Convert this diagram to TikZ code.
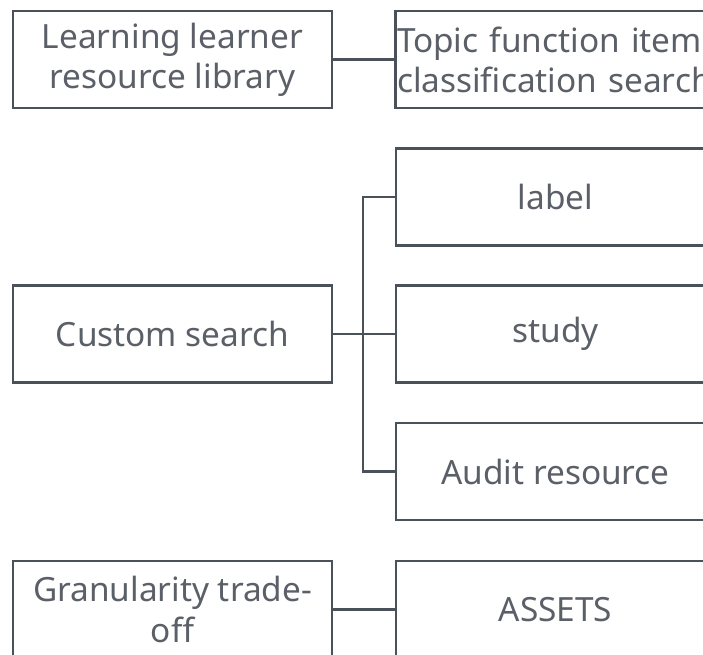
\documentclass[tikz,border=0pt]{standalone}
\usepackage{fontspec}
\setmainfont{Noto Sans}
\usepackage{tikz}
\usetikzlibrary{positioning}
\definecolor{edgegray}{HTML}{4B5159}
\definecolor{textgray}{HTML}{5B6068}
\tikzset{
    item/.style={rectangle,draw=edgegray,line width=1.4pt,minimum width=6.38cm,minimum height=1.94cm,
        inner sep=1pt,text=textgray,align=center,
        font=\fontsize{19pt}{22.8pt}\selectfont},
    leftitem/.style={item,align=left,text width=6.34cm},
    link/.style={draw=edgegray,line width=1.4pt},
}
\begin{document}
\begin{tikzpicture}[x=0.02cm,y=-0.02cm]
    \useasboundingbox (0,0) rectangle (703,655);
    \clip (0,0) rectangle (703,655);
    \fill[white] (0,0) rectangle (703,655);

    \node[item] (lib) at (172.5,59.5) {Learning learner\\resource library};
    \node[leftitem] (topic) at (555.5,59.5) {Topic function item\\classification search};

    \node[item] (cs) at (172.5,334) {Custom search};
    \node[item] (lbl) at (555.5,197) {label};
    \node[item] (st) at (555.5,334) {study};
    \node[item] (aud) at (555.5,471.5) {Audit resource};

    \node[item] (gran) at (172.5,609.5) {Granularity trade-\\off};
    \node[item] (assets) at (555.5,609.5) {ASSETS};

    \draw[link] (lib) -- (topic);
    \draw[link] (cs) -- (st);
    \draw[link] (lbl.west) -- ++(-32,0) |- (aud.west);
    \draw[link] (gran) -- (assets);
\end{tikzpicture}
\end{document}
